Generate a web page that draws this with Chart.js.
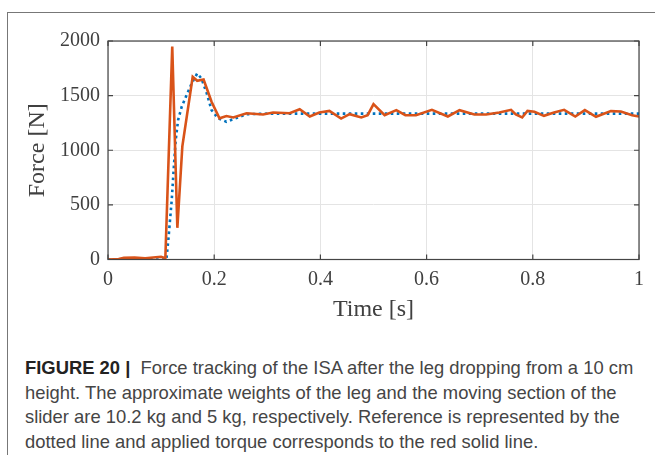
<!DOCTYPE html>
<html>
<head>
<meta charset="utf-8">
<script src="https://cdn.jsdelivr.net/npm/chart.js@4.4.0/dist/chart.umd.min.js"></script>
<style>
    body { margin: 0; background: #fff; width: 655px; height: 455px; overflow: hidden; position: relative; }
    #frame { position: absolute; left: 7px; top: 12px; width: 660px; height: 460px; border-top: 1.5px solid #777; border-left: 1.5px solid #777; }
    #grafico { position: absolute; left: 0; top: 0; }
    #legenda {
        position: absolute; left: 25px; top: 356px; width: 625px;
        font-family: "Liberation Sans", Arial, sans-serif; font-size: 18.4px; line-height: 24.5px; color: #454545;
        white-space: nowrap;
    }
    #legenda b { color: #222; }
</style>
</head>
<body>
<div id="frame"></div>
<canvas id="grafico" width="655" height="340"></canvas>
<div id="legenda"><b>FIGURE 20</b> <b>|</b>&nbsp; Force tracking of the ISA after the leg dropping from a 10 cm<br>height. The approximate weights of the leg and the moving section of the<br>slider are 10.2 kg and 5 kg, respectively. Reference is represented by the<br>dotted line and applied torque corresponds to the red solid line.</div>

<script>
// dados
var tempoReferencia = [0, 0.05, 0.11, 0.1136, 0.120, 0.124, 0.1275, 0.132, 0.1388, 0.148, 0.1576, 0.168, 0.176, 0.186, 0.195, 0.207, 0.223, 0.239, 0.261, 0.3, 1.0];
var forcaReferencia = [0, 2, 0, 178, 544, 849, 1093, 1276, 1398, 1505, 1612, 1703, 1658, 1520, 1368, 1292, 1261, 1290, 1330, 1335, 1335];

var tempoMedido = [0, 0.02, 0.03, 0.05, 0.07, 0.09, 0.1, 0.108, 0.121, 0.1306, 0.140, 0.1595, 0.168, 0.180, 0.195, 0.210, 0.223, 0.236, 0.261, 0.292, 0.311, 0.342, 0.361, 0.380, 0.398, 0.417, 0.439, 0.455, 0.477, 0.489, 0.500, 0.521, 0.543, 0.560, 0.580, 0.610, 0.640, 0.662, 0.690, 0.712, 0.737, 0.759, 0.768, 0.780, 0.790, 0.803, 0.821, 0.840, 0.859, 0.880, 0.898, 0.919, 0.947, 0.966, 0.987, 1.0];
var forcaMedida = [0, 5, 15, 18, 12, 20, 25, 12, 1950, 290, 1035, 1672, 1636, 1648, 1444, 1292, 1313, 1300, 1339, 1327, 1345, 1339, 1376, 1309, 1345, 1360, 1290, 1330, 1300, 1321, 1422, 1321, 1367, 1321, 1321, 1370, 1309, 1367, 1327, 1327, 1345, 1370, 1327, 1300, 1360, 1352, 1315, 1345, 1370, 1309, 1367, 1306, 1358, 1355, 1321, 1309];

var ticksTempo = [0, 0.2, 0.4, 0.6, 0.8, 1];
var ticksForca = [0, 500, 1000, 1500, 2000];

function montarPontos(xs, ys) {
    var pontos = [];
    for (var i = 0; i < xs.length; i++) {
        pontos.push({ x: xs[i], y: ys[i] });
    }
    return pontos;
}

// caixa do eixo com os ticks para dentro (estilo matlab)
const caixaEixos = {
    id: 'caixaEixos',
    afterDatasetsDraw(chart) {
        const ctx = chart.ctx;
        const a = chart.chartArea;
        const sx = chart.scales.x;
        const sy = chart.scales.y;
        ctx.save();
        ctx.strokeStyle = '#444';
        ctx.lineWidth = 1.2;
        ctx.strokeRect(a.left, a.top, a.right - a.left, a.bottom - a.top);
        ctx.beginPath();
        ticksTempo.forEach(function (t) {
            var px = sx.getPixelForValue(t);
            ctx.moveTo(px, a.bottom); ctx.lineTo(px, a.bottom - 5);
            ctx.moveTo(px, a.top); ctx.lineTo(px, a.top + 5);
        });
        ticksForca.forEach(function (f) {
            var py = sy.getPixelForValue(f);
            ctx.moveTo(a.left, py); ctx.lineTo(a.left + 5, py);
            ctx.moveTo(a.right, py); ctx.lineTo(a.right - 5, py);
        });
        ctx.stroke();
        ctx.restore();
    }
};

const fonteSerif = 'Liberation Serif';

new Chart(document.getElementById('grafico'), {
    type: 'line',
    data: {
        datasets: [{
            label: 'Applied',
            data: montarPontos(tempoMedido, forcaMedida),
            borderColor: '#D95319',
            borderWidth: 2.6,
            pointRadius: 0,
            tension: 0,
            order: 0
        }, {
            label: 'Reference',
            data: montarPontos(tempoReferencia, forcaReferencia),
            borderColor: '#0072BD',
            borderWidth: 2.6,
            borderDash: [2.6, 3.4],
            pointRadius: 0,
            tension: 0,
            order: 1
        }]
    },
    options: {
        responsive: false,
        animation: false,
        devicePixelRatio: 1,
        layout: { padding: { left: 0, right: 16, top: 41, bottom: 0 } },
        plugins: { legend: { display: false }, tooltip: { enabled: false } },
        scales: {
            x: {
                type: 'linear',
                min: 0, max: 1,
                afterBuildTicks: function (scale) { scale.ticks = ticksTempo.map(function (v) { return { value: v }; }); },
                afterFit: function (scale) { scale.height = 80.5; },
                grid: { color: '#e4e4e4', lineWidth: 1, drawTicks: false },
                border: { display: false },
                ticks: {
                    padding: 8,
                    color: '#404040',
                    font: { family: fonteSerif, size: 20 },
                    maxRotation: 0,
                    callback: function (v) { return String(v); }
                },
                title: {
                    display: true,
                    text: 'Time [s]',
                    color: '#404040',
                    font: { family: fonteSerif, size: 24 },
                    padding: { top: 0, bottom: 16 }
                }
            },
            y: {
                min: 0, max: 2000,
                afterBuildTicks: function (scale) { scale.ticks = ticksForca.map(function (v) { return { value: v }; }); },
                afterFit: function (scale) { scale.width = 108; },
                grid: { color: '#e4e4e4', lineWidth: 1, drawTicks: false },
                border: { display: false },
                ticks: {
                    padding: 8,
                    color: '#404040',
                    font: { family: fonteSerif, size: 20 },
                    callback: function (v) { return String(v); }
                },
                title: {
                    display: true,
                    text: 'Force [N]',
                    color: '#404040',
                    font: { family: fonteSerif, size: 24 },
                    padding: { top: 23, bottom: 0 }
                }
            }
        }
    },
    plugins: [caixaEixos]
});
</script>
</body>
</html>
